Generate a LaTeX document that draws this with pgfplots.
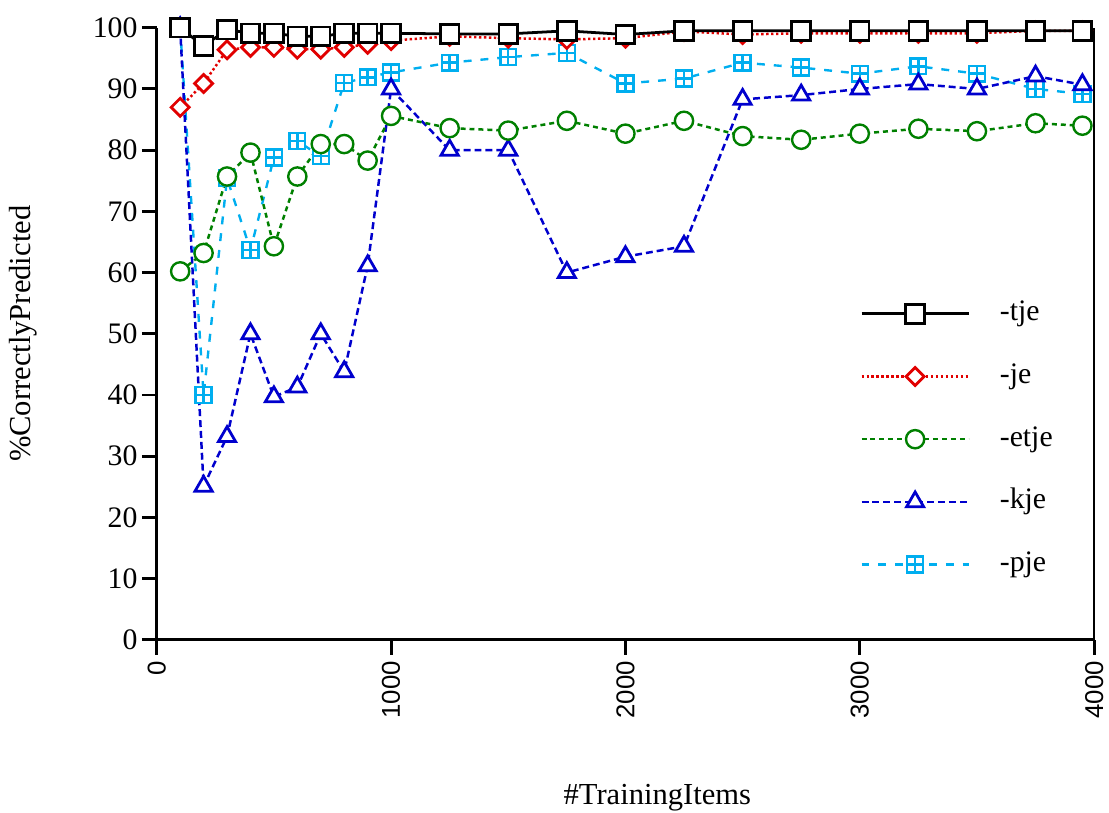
\documentclass[border=0pt]{standalone}
\usepackage{fontspec}
\setmainfont{Liberation Serif}
\setsansfont{Liberation Sans}
\usepackage{pgfplots}
\pgfplotsset{compat=1.18}
\usepackage{pgfplotstable}
\definecolor{cRed}{RGB}{225,0,0}
\definecolor{cGreen}{RGB}{0,128,0}
\definecolor{cBlue}{RGB}{0,0,205}
\definecolor{cCyan}{RGB}{0,174,239}
\pgfdeclareplotmark{boxplus}{%
  \pgfpathrectangle{\pgfpoint{-\pgfplotmarksize}{-\pgfplotmarksize}}{\pgfpoint{2\pgfplotmarksize}{2\pgfplotmarksize}}%
  \pgfusepathqfillstroke
  \pgfpathmoveto{\pgfpoint{-\pgfplotmarksize}{0pt}}\pgfpathlineto{\pgfpoint{\pgfplotmarksize}{0pt}}%
  \pgfpathmoveto{\pgfpoint{0pt}{-\pgfplotmarksize}}\pgfpathlineto{\pgfpoint{0pt}{\pgfplotmarksize}}%
  \pgfusepathqstroke}
\pgfplotstableread{
x     tje    je     etje   kje    pje
100   100.0  87.0   60.2   100.0  100.0
200   97.0   90.9   63.2   25.1   40.0
300   99.7   96.4   75.7   33.2   75.4
400   99.1   96.8   79.6   50.0   63.7
500   99.1   96.8   64.3   39.7   78.8
600   98.6   96.5   75.7   41.3   81.5
700   98.6   96.5   81.0   50.0   79.0
800   99.1   96.8   81.0   43.8   91.0
900   99.1   97.3   78.3   61.1   91.9
1000  99.1   97.9   85.6   90.0   92.7
1250  99.0   98.6   83.6   80.0   94.3
1500  99.0   98.3   83.2   80.0   95.2
1750  99.5   98.1   84.8   60.0   95.9
2000  98.9   98.3   82.7   62.6   90.9
2250  99.5   99.4   84.8   64.3   91.7
2500  99.5   98.9   82.3   88.3   94.3
2750  99.5   99.1   81.7   89.0   93.5
3000  99.5   99.1   82.7   90.0   92.5
3250  99.5   99.1   83.5   90.8   93.7
3500  99.5   99.1   83.1   90.0   92.5
3750  99.5   99.5   84.4   92.1   90.0
3950  99.5   99.5   84.0   90.7   89.2
}\datatable
\begin{document}
\begin{tikzpicture}
\begin{axis}[
  scale only axis,
  width=472.5pt, height=308.5pt,
  xmin=0, xmax=4000, ymin=0, ymax=100,
  xtick={0,1000,2000,3000,4000},
  ytick={0,10,...,100},
  scaled x ticks=false,
  /pgf/number format/1000 sep={},
  /pgf/number format/assume math mode=true,
  axis x line*=bottom, axis y line*=left,
  axis line style={line width=1.6pt},
  tick align=outside,
  major tick length=7.5pt,
  every tick/.style={line width=1.5pt, black},
  xticklabel style={rotate=90, anchor=east, font=\fontsize{13}{13}\sffamily, inner sep=3pt},
  yticklabel style={font=\fontsize{15}{15}\selectfont, inner sep=2pt},
  xlabel={\#TrainingItems},
  xlabel style={at={(rel axis cs:0.534,0)}, anchor=base, yshift=-83pt, font=\fontsize{15.4}{15.4}\selectfont},
  ylabel={\%CorrectlyPredicted},
  ylabel style={at={(axis description cs:-0.1429,0.5)}, anchor=center, font=\fontsize{15.4}{15.4}\selectfont},
  clip=false,
  reverse legend,
  legend cell align=left,
  legend image code/.code={\draw[mark repeat=2,mark phase=2] plot coordinates {(0pt,0pt) (27pt,0pt) (54pt,0pt)};},
  legend style={draw=none, fill=none, at={(rel axis cs:0.750,0.556)}, anchor=north west,
    inner sep=0pt, row sep=17.6pt, column sep=15pt,
    font=\fontsize{15}{15}\selectfont,
    nodes={inner sep=0pt, text height=10.5pt, text depth=3.5pt}},
]
\addplot[cCyan, line width=1.2pt, dash pattern=on 4pt off 4.5pt, mark=boxplus, mark size=4pt, mark options={solid, fill=white, line width=1.2pt}] table[x=x,y=pje] {\datatable};
\addlegendentry{-pje}
\addplot[cBlue, line width=1.25pt, dash pattern=on 3.5pt off 2pt, mark=triangle*, mark size=5pt, mark options={solid, fill=white, line width=1.4pt}] table[x=x,y=kje] {\datatable};
\addlegendentry{-kje}
\addplot[cGreen, line width=1.25pt, dash pattern=on 2.5pt off 2pt, mark=*, mark size=4.6pt, mark options={solid, fill=white, draw=cGreen, line width=1.2pt}] table[x=x,y=etje] {\datatable};
\addlegendentry{-etje}
\addplot[cRed, line width=1.25pt, dash pattern=on 1.2pt off 1.3pt, mark=square*, mark size=3.2pt, mark options={solid, fill=white, line width=1.4pt, rotate=45}] table[x=x,y=je] {\datatable};
\addlegendentry{-je}
\addplot[black, line width=1.4pt, mark=square*, mark size=4.7pt, mark options={solid, fill=white, line width=1.4pt}] table[x=x,y=tje] {\datatable};
\addlegendentry{-tje}
\draw[line width=1.3pt] (rel axis cs:1,0) -- (rel axis cs:1,1);
\coordinate (LL) at (rel axis cs:0,0);
\coordinate (UR) at (rel axis cs:1,1);
\end{axis}
\pgfresetboundingbox
\path[use as bounding box] ([shift={(-79pt,-87pt)}]LL) rectangle ([shift={(7.5pt,14pt)}]UR);
\end{tikzpicture}
\end{document}
